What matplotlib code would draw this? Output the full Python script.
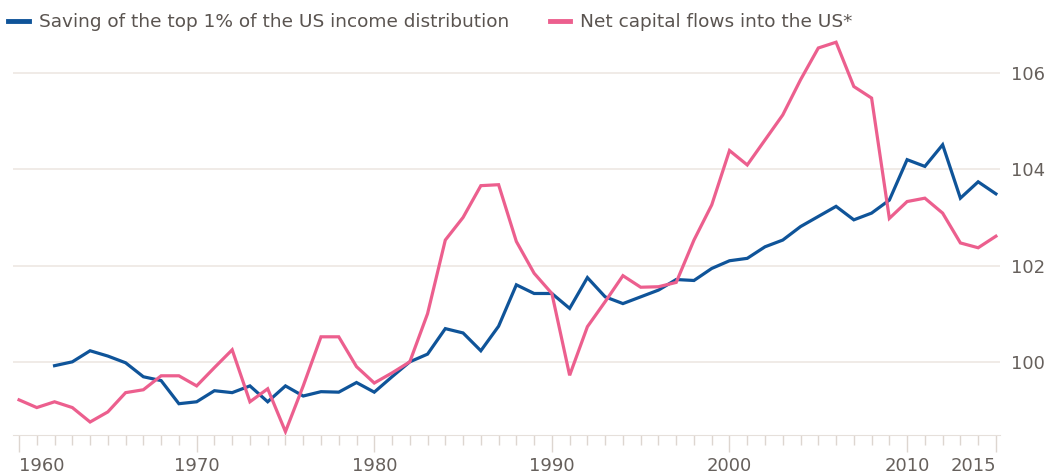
import matplotlib
matplotlib.use("Agg")
import matplotlib.pyplot as plt
from matplotlib.ticker import MultipleLocator

years = list(range(1960, 2016))

# Saving of the top 1% (starts 1962)
saving_years = list(range(1962, 2016))
saving = [
    99.92, 100.00, 100.23, 100.12, 99.98, 99.69, 99.61, 99.13, 99.17, 99.40,
    99.36, 99.50, 99.17, 99.50, 99.29, 99.38, 99.37, 99.57, 99.37, 99.69,
    100.00, 100.16, 100.69, 100.60, 100.23, 100.74, 101.60, 101.42, 101.42, 101.11,
    101.75, 101.35, 101.21, 101.35, 101.49, 101.71, 101.69, 101.94, 102.10, 102.15,
    102.39, 102.53, 102.81, 103.02, 103.23, 102.95, 103.09, 103.36, 104.20, 104.06,
    104.51, 103.40, 103.74, 103.49,
]

# Net capital flows into the US
flows = [
    99.21, 99.05, 99.17, 99.05, 98.75, 98.96, 99.36, 99.42, 99.71, 99.71,
    99.50, 99.88, 100.25, 99.17, 99.44, 98.55, 99.50, 100.52, 100.52, 99.90,
    99.56, 99.77, 100.00, 101.00, 102.53, 103.00, 103.66, 103.68, 102.50, 101.84,
    101.42, 99.72, 100.73, 101.25, 101.79, 101.55, 101.56, 101.65, 102.53, 103.26,
    104.39, 104.09, 104.61, 105.13, 105.86, 106.52, 106.64, 105.72, 105.48, 102.98,
    103.33, 103.40, 103.09, 102.47, 102.37, 102.61,
]

y_ticks = [100, 102, 104, 106]
x_ticks = [1960, 1970, 1980, 1990, 2000, 2010, 2015]

blue = "#0f5499"
pink = "#ec5f8e"
text_color = "#66605c"
grid_color = "#ede8e3"

fig = plt.figure(figsize=(10.49, 4.75), dpi=100)
ax = fig.add_axes([13 / 1049, 40 / 475, 987 / 1049, 400 / 475])

ax.plot(saving_years, saving, color=blue, linewidth=2.3,
        label="Saving of the top 1% of the US income distribution",
        solid_joinstyle="miter")
ax.plot(years, flows, color=pink, linewidth=2.3,
        label="Net capital flows into the US*", solid_joinstyle="miter")

ax.set_xlim(1959.66, 2015.23)
ax.set_ylim(98.48, 106.79)

# y axis on the right, gridlines only
ax.yaxis.tick_right()
ax.set_yticks(y_ticks)
ax.grid(axis="y", color=grid_color, linewidth=1.2)
ax.tick_params(axis="y", length=0, pad=8, labelsize=13, labelcolor=text_color)

# x axis with yearly minor ticks
ax.set_xticks(x_ticks)
ax.xaxis.set_minor_locator(MultipleLocator(1))
ax.tick_params(axis="x", which="major", length=12, width=1, color="#ddd6d0",
               pad=4, labelsize=13, labelcolor=text_color)
ax.tick_params(axis="x", which="minor", length=7, width=1, color="#ddd6d0")

labels = ax.get_xticklabels()
labels[0].set_horizontalalignment("left")
labels[-1].set_horizontalalignment("right")

for side in ["top", "left", "right"]:
    ax.spines[side].set_visible(False)
ax.spines["bottom"].set_color("#e6e0db")
ax.set_axisbelow(True)

leg = ax.legend(loc="upper left", bbox_to_anchor=(0.0, 0.99), ncol=2,
                bbox_transform=fig.transFigure, frameon=False,
                fontsize=13.3, handlelength=1.1, handletextpad=0.55,
                columnspacing=2.2, borderaxespad=0.25, borderpad=0.2)
for line in leg.get_lines():
    line.set_linewidth(3.5)
for t in leg.get_texts():
    t.set_color("#5a5450")

fig.savefig("out.png", dpi=100)
plt.close(fig)
